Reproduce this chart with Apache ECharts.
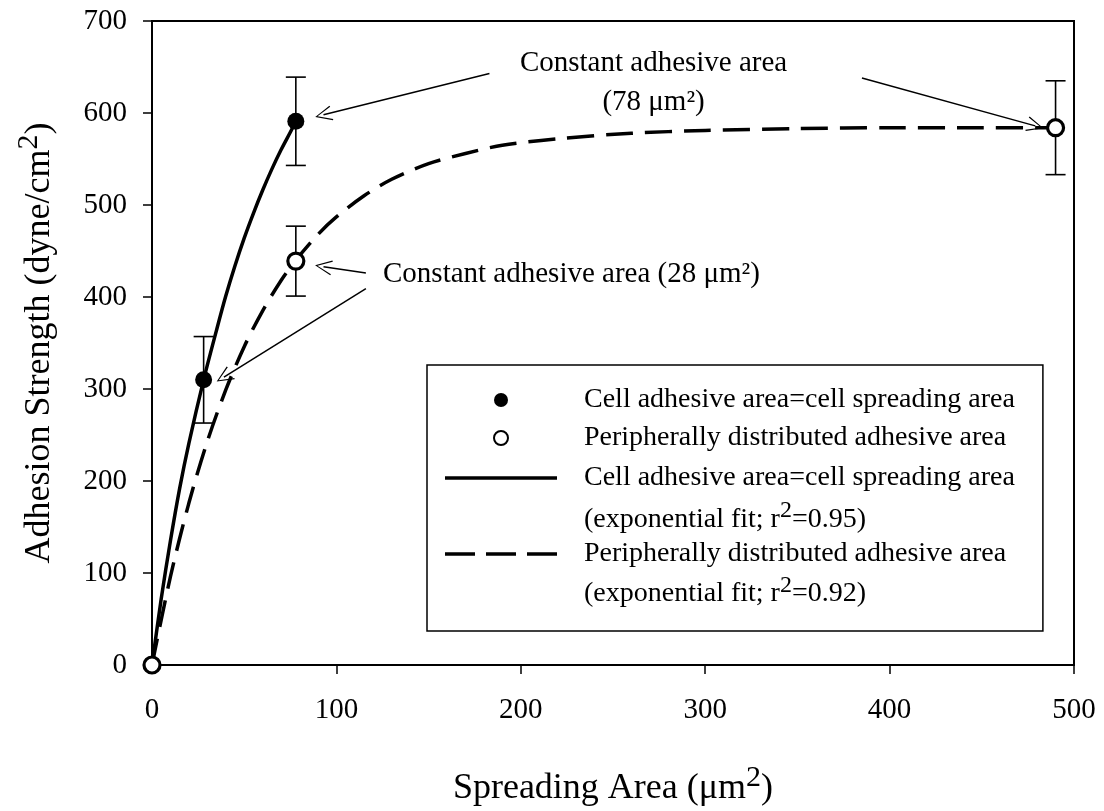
<!DOCTYPE html>
<html>
<head>
<meta charset="utf-8">
<script src="https://cdn.jsdelivr.net/npm/echarts@6/dist/echarts.min.js"></script>
<style>
  html, body { margin: 0; padding: 0; background: #fff; }
  #chart { width: 1104px; height: 811px; }
</style>
</head>
<body>
<div id="chart"></div>
<script>
// measured points (spreading area in um^2, adhesion strength in dyne/cm^2)
const fullX = [0, 28, 78]
const fullY = [0, 310, 591]
const fullErr = [0, 47, 48]

const periX = [0, 78, 490]
const periY = [0, 439, 584]
const periErr = [0, 38, 51]

// fitted curves
const fullFitX = [0, 5, 10, 15, 20, 28, 35, 40, 45, 50, 55, 60, 65, 70, 75, 78]
const fullFitY = [0, 72, 135, 192, 241, 310, 364, 401, 434, 464, 491, 516, 539, 560, 579, 591]
const periFitX = [0, 10, 20, 30, 40, 50, 60, 70, 78, 90, 100, 115, 130, 150, 170, 190, 220, 260, 300, 350, 400, 450, 490]
const periFitY = [0, 96, 176, 243, 299, 346, 385, 418, 440, 468, 487, 510, 528, 545, 556, 565, 572, 578, 581, 583, 584, 584, 584]

const xTicks = [0, 100, 200, 300, 400, 500]
const yTicks = [0, 100, 200, 300, 400, 500, 600, 700]

const FONT = '"Liberation Serif", "Times New Roman", serif'
const arrowHead = 'path://M10,0 L20,22 L18.4,22.8 L10,3.2 L1.6,22.8 L0,22 Z'
const solidIcon = 'path://M0,0 L112,0 L112,3.5 L0,3.5 Z'
const dashIcon = 'path://M0,0 L30,0 L30,3.5 L0,3.5 Z M41,0 L71,0 L71,3.5 L41,3.5 Z M82,0 L112,0 L112,3.5 L82,3.5 Z'

const zip = (xs, ys) => xs.map((x, i) => [x, ys[i]])
const errRows = (xs, ys, es) => xs.map((x, i) => [x, ys[i] - es[i], ys[i] + es[i]]).filter((r, i) => es[i] > 0)

const nameFull = 'Cell adhesive area=cell spreading area'
const namePeri = 'Peripherally distributed adhesive area'
const nameFullFit = 'Cell adhesive area=cell spreading area\n(exponential fit; r{s|2}=0.95)'
const namePeriFit = 'Peripherally distributed adhesive area\n(exponential fit; r{s|2}=0.92)'

const LH = 38
const LH2 = 42

const chart = echarts.init(document.getElementById('chart'))

const errorSeries = (name, rows) => ({
  name,
  type: 'custom',
  data: rows,
  encode: { x: 0, y: [1, 2] },
  z: 3,
  silent: true,
  renderItem: (params, api) => {
    const lo = api.coord([api.value(0), api.value(1)])
    const hi = api.coord([api.value(0), api.value(2)])
    const w = 10
    const style = { stroke: '#000', lineWidth: 1.6 }
    return {
      type: 'group',
      children: [
        { type: 'line', shape: { x1: lo[0], y1: lo[1], x2: hi[0], y2: hi[1] }, style },
        { type: 'line', shape: { x1: lo[0] - w, y1: lo[1], x2: lo[0] + w, y2: lo[1] }, style },
        { type: 'line', shape: { x1: hi[0] - w, y1: hi[1], x2: hi[0] + w, y2: hi[1] }, style }
      ]
    }
  }
})

const arrow = (from, to) => [
  { coord: from, symbol: 'none' },
  { coord: to, symbol: arrowHead, symbolSize: [15, 17] }
]

const note = (coord, text) => ({
  coord,
  value: text,
  label: { formatter: text }
})

const titleRich = {
  t: { fontSize: 36, fontFamily: FONT, color: '#000', lineHeight: 52 },
  s: { fontSize: 30, fontFamily: FONT, color: '#000', verticalAlign: 'top', lineHeight: 44 }
}

chart.setOption({
  animation: false,
  textStyle: { fontFamily: FONT },
  grid: {
    left: 152,
    right: 30,
    top: 21,
    bottom: 146,
    outerBoundsMode: 'none',
    containLabel: false,
    show: true,
    borderColor: '#000',
    borderWidth: 2
  },
  xAxis: {
    type: 'value',
    min: 0,
    max: 500,
    interval: 100,
    axisLine: { show: true, onZero: false, lineStyle: { color: '#000', width: 2 } },
    axisTick: { show: true, inside: false, length: 9, lineStyle: { color: '#000', width: 1.5 } },
    splitLine: { show: false },
    axisLabel: {
      margin: 31,
      color: '#000',
      fontSize: 29,
      fontFamily: FONT,
      customValues: xTicks
    },
    name: '{t|Spreading Area (μm}{s|2}{t|)}',
    nameLocation: 'middle',
    nameGap: 98,
    nameTextStyle: { rich: titleRich }
  },
  yAxis: {
    type: 'value',
    min: 0,
    max: 700,
    interval: 100,
    axisLine: { show: true, onZero: false, lineStyle: { color: '#000', width: 2 } },
    axisTick: { show: true, inside: false, length: 9, lineStyle: { color: '#000', width: 1.5 } },
    splitLine: { show: false },
    axisLabel: {
      margin: 25,
      color: '#000',
      fontSize: 29,
      fontFamily: FONT,
      customValues: yTicks
    },
    name: '{t|Adhesion Strength (dyne/cm}{s|2}{t|)}',
    nameLocation: 'middle',
    nameGap: 86,
    nameTextStyle: { rich: titleRich }
  },
  legend: {
    orient: 'vertical',
    left: 427,
    top: 365,
    itemWidth: 112,
    itemHeight: 14,
    itemGap: 0,
    padding: [16, 28, 23, 18],
    borderColor: '#000',
    borderWidth: 1.5,
    backgroundColor: '#fff',
    selectedMode: false,
    textStyle: {
      fontSize: 28,
      fontFamily: FONT,
      color: '#000',
      lineHeight: LH,
      padding: [0, 0, 0, 22],
      rich: {
        s: { fontSize: 24, fontFamily: FONT, color: '#000', verticalAlign: 'top', lineHeight: 30 }
      }
    },
    data: [
      { name: nameFull },
      { name: namePeri },
      { name: nameFullFit, icon: solidIcon, textStyle: { lineHeight: LH2, padding: [0, 0, -LH2, 22] } },
      { name: namePeriFit, icon: dashIcon, textStyle: { lineHeight: 40, padding: [0, 0, -40, 22] } }
    ]
  },
  series: [
    {
      name: nameFullFit,
      type: 'line',
      data: zip(fullFitX, fullFitY),
      smooth: 0.3,
      symbol: 'none',
      lineStyle: { color: '#000', width: 3.5, type: 'solid' },
      itemStyle: { color: '#000' },
      z: 2,
      silent: true
    },
    {
      name: namePeriFit,
      type: 'line',
      data: zip(periFitX, periFitY),
      smooth: 0.3,
      symbol: 'none',
      lineStyle: { color: '#000', width: 3.5, type: [27, 12] },
      itemStyle: { color: '#000' },
      z: 2,
      silent: true
    },
    errorSeries('fullErr', errRows(fullX, fullY, fullErr)),
    errorSeries('periErr', errRows(periX, periY, periErr)),
    {
      name: nameFull,
      type: 'scatter',
      data: zip(fullX, fullY),
      symbol: 'circle',
      symbolSize: 17,
      clip: false,
      itemStyle: { color: '#000', borderColor: '#000', borderWidth: 0, opacity: 1 },
      z: 5
    },
    {
      name: namePeri,
      type: 'scatter',
      data: zip(periX, periY),
      symbol: 'circle',
      symbolSize: 16,
      clip: false,
      itemStyle: { color: '#fff', borderColor: '#000', borderWidth: 3.2, opacity: 1 },
      z: 6
    },
    {
      name: 'notes',
      type: 'scatter',
      data: [],
      silent: true,
      markLine: {
        silent: true,
        animation: false,
        label: { show: false },
        lineStyle: { color: '#000', width: 1.5, type: 'solid' },
        emphasis: { disabled: true },
        data: [
          arrow([183, 643], [93, 598]),
          arrow([116, 426], [93, 433]),
          arrow([116, 409], [39, 313]),
          arrow([385, 638], [479, 586])
        ]
      },
      markPoint: {
        silent: true,
        animation: false,
        symbol: 'circle',
        symbolSize: 1,
        itemStyle: { color: 'rgba(0,0,0,0)' },
        label: {
          show: true,
          position: 'inside',
          color: '#000',
          fontSize: 29,
          fontFamily: FONT
        },
        data: [
          note([272, 654], 'Constant adhesive area'),
          note([272, 612], '(78 μm²)'),
          {
            coord: [125, 425],
            value: 'c28',
            label: { formatter: 'Constant adhesive area (28 μm²)', position: 'right', distance: 0 }
          }
        ]
      }
    }
  ]
})
</script>
</body>
</html>
